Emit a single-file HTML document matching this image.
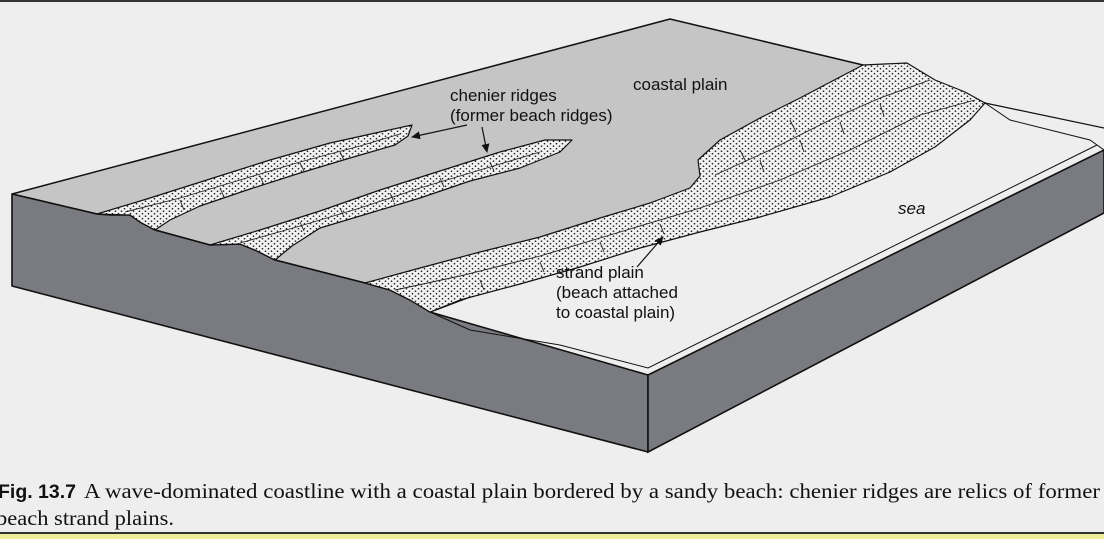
<!DOCTYPE html>
<html><head><meta charset="utf-8"><style>
html,body{margin:0;padding:0;background:#eeeeee;}
svg{display:block;}
</style></head><body>
<svg width="1104" height="539" viewBox="0 0 1104 539" xmlns="http://www.w3.org/2000/svg">
<defs>
<pattern id="dots" width="6" height="5" patternUnits="userSpaceOnUse">
<rect width="6" height="5" fill="#f2f2f2"/>
<circle cx="1.5" cy="1.2" r="0.85" fill="#222"/>
<circle cx="4.5" cy="3.7" r="0.85" fill="#222"/>
</pattern>
<marker id="ah" markerWidth="9" markerHeight="8" refX="8" refY="4" orient="auto" markerUnits="userSpaceOnUse">
<path d="M0,0 L9,4 L0,8 z" fill="#111"/>
</marker>
</defs>
<rect width="1104" height="539" fill="#eeeeee"/>
<rect x="0" y="0" width="1104" height="2" fill="#333"/>
<polygon points="430,312 648,375 1104,150 1104,128 985,103" fill="#eeeeee"/>
<polygon points="12,194 670,19 863,65 985,103 430,312 410,300 390,290 365,283 275,260 255,250 240,244 210,245 155,230 140,222 130,215 97,214" fill="#c5c5c5" stroke="#111" stroke-width="1.5" stroke-linejoin="round"/>
<polygon points="12,194 97,214 110,215 130,215 140,222 155,230 210,245 240,244 255,250 275,260 365,283 390,290 410,300 430,312 648,375 648,452 12,286" fill="#7a7b80" stroke="#111" stroke-width="1.6" stroke-linejoin="round"/>
<polygon points="648,375 1104,150 1104,213 648,452" fill="#7a7b80" stroke="#111" stroke-width="1.6"/>
<polyline points="430,312 470,330 560,345 648,368 1097,145" fill="none" stroke="#111" stroke-width="1"/>
<polyline points="985,103 1010,120 1090,140 1104,150" fill="none" stroke="#111" stroke-width="1"/>
<line x1="985" y1="103" x2="1104" y2="128" stroke="#111" stroke-width="1.2"/>
<!-- chenier ridge 1 -->
<path d="M97,214 L150,198 L210,179 L270,160 L330,143 L380,132 L412,125 L408,136 L395,145 L350,158 L300,173 L250,189 L200,206 L170,220 L155,230 L140,222 L130,215 Z" fill="url(#dots)" stroke="#111" stroke-width="1.2" stroke-linejoin="round"/>
<path d="M125,212 L180,198 L240,180 L300,162 L360,146 L400,134" fill="none" stroke="#222" stroke-width="0.9"/>
<!-- chenier ridge 2 -->
<path d="M210,245 L260,230 L320,211 L380,190 L440,171 L500,152 L545,140 L572,140 L560,152 L520,168 L470,181 L420,198 L370,213 L320,228 L292,246 L275,260 L255,250 L240,244 Z" fill="url(#dots)" stroke="#111" stroke-width="1.2" stroke-linejoin="round"/>
<path d="M240,243 L300,226 L360,208 L420,188 L480,170 L540,152" fill="none" stroke="#222" stroke-width="0.9"/>
<!-- strand plain -->
<path d="M365,283 L420,268 L480,252 L540,237 L600,218 L650,203 L690,188 L700,176 L698,160 L720,140 L760,118 L800,98 L840,77 L863,65 L907,63 L935,80 L965,92 L985,103 L970,120 L935,147 L890,172 L830,197 L760,217 L700,232 L640,248 L580,267 L520,284 L460,300 L430,312 L410,300 L390,290 Z" fill="url(#dots)" stroke="#111" stroke-width="1.2" stroke-linejoin="round"/>
<path d="M395,290 L460,276 L540,256 L620,232 L700,208 L780,180 L850,150 L920,115 L975,100" fill="none" stroke="#222" stroke-width="0.9"/>
<path d="M715,175 L770,150 L830,120 L880,98 L930,80" fill="none" stroke="#222" stroke-width="0.9"/>
<g stroke="#222" stroke-width="0.9">
<line x1="180" y1="200" x2="184" y2="210"/><line x1="220" y1="188" x2="224" y2="197"/><line x1="260" y1="176" x2="264" y2="185"/><line x1="300" y1="163" x2="304" y2="171"/><line x1="340" y1="152" x2="344" y2="160"/>
<line x1="300" y1="222" x2="304" y2="231"/><line x1="340" y1="208" x2="344" y2="217"/><line x1="390" y1="193" x2="394" y2="202"/><line x1="440" y1="178" x2="444" y2="187"/><line x1="490" y1="162" x2="494" y2="171"/>
<line x1="480" y1="280" x2="484" y2="290"/><line x1="540" y1="262" x2="544" y2="272"/><line x1="600" y1="242" x2="604" y2="252"/><line x1="660" y1="224" x2="664" y2="234"/>
<line x1="760" y1="160" x2="764" y2="172"/><line x1="800" y1="140" x2="804" y2="152"/><line x1="840" y1="122" x2="844" y2="134"/><line x1="880" y1="104" x2="884" y2="116"/>
<line x1="740" y1="150" x2="746" y2="162"/><line x1="790" y1="120" x2="796" y2="132"/>
</g>
<g font-family="Liberation Sans, sans-serif" font-size="17" fill="#111">
<text x="633" y="90">coastal plain</text>
<text x="450" y="101">chenier ridges</text>
<text x="450" y="121">(former beach ridges)</text>
<text x="556" y="278">strand plain</text>
<text x="556" y="298">(beach attached</text>
<text x="556" y="318">to coastal plain)</text>
<text x="898" y="214" font-style="italic">sea</text>
</g>
<line x1="467" y1="125" x2="412" y2="137" stroke="#111" stroke-width="1.2" marker-end="url(#ah)"/>
<line x1="482" y1="127" x2="487" y2="152" stroke="#111" stroke-width="1.2" marker-end="url(#ah)"/>
<line x1="637" y1="267" x2="663" y2="237" stroke="#111" stroke-width="1.2" marker-end="url(#ah)"/>
<text x="-2" y="498" font-family="Liberation Sans, sans-serif" font-weight="bold" font-size="19" fill="#111" textLength="78" lengthAdjust="spacingAndGlyphs">Fig. 13.7</text>
<text x="84" y="498" font-family="Liberation Serif, serif" font-size="21" fill="#111" textLength="1016" lengthAdjust="spacingAndGlyphs">A wave-dominated coastline with a coastal plain bordered by a sandy beach: chenier ridges are relics of former</text>
<text x="-4" y="525" font-family="Liberation Serif, serif" font-size="21" fill="#111" textLength="178" lengthAdjust="spacingAndGlyphs">beach strand plains.</text>
<rect x="0" y="532" width="1104" height="2" fill="#333"/>
<rect x="0" y="534" width="1104" height="5" fill="#eeee99"/>
</svg>
</body></html>
